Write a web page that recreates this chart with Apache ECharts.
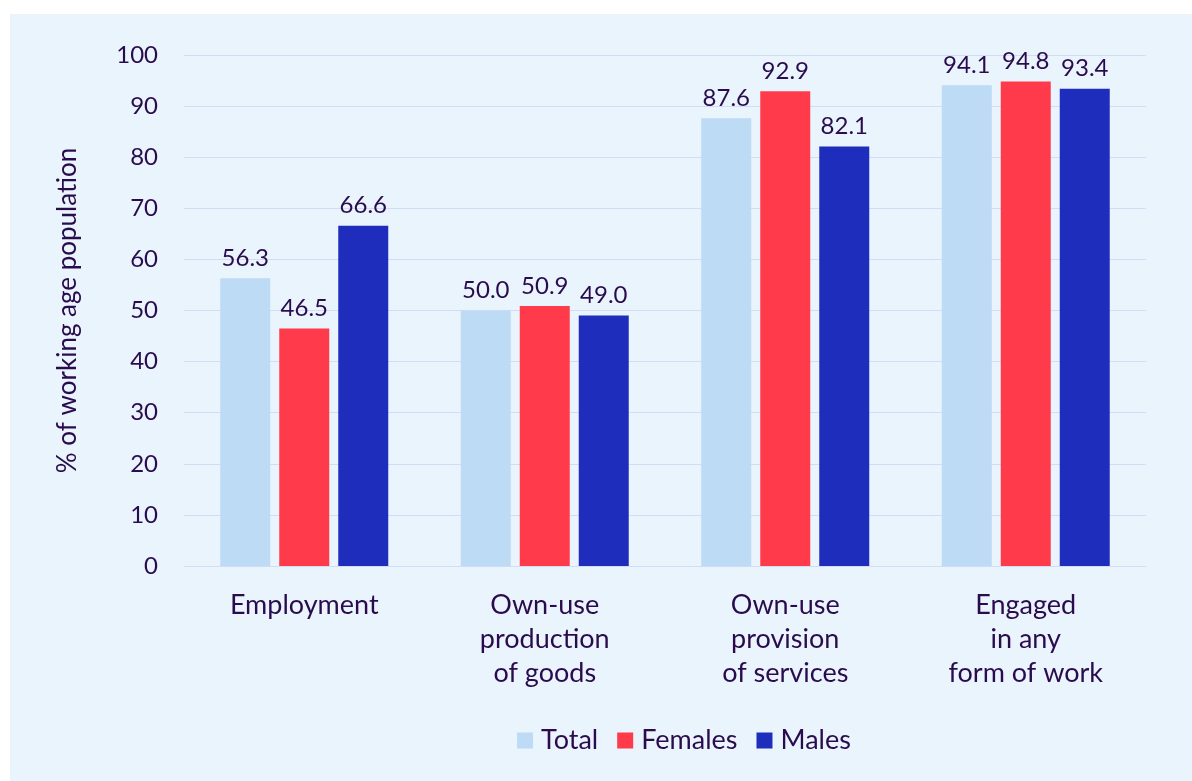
<!DOCTYPE html>
<html>
<head>
<meta charset="utf-8">
<script src="https://cdn.jsdelivr.net/npm/echarts@6/dist/echarts.min.js"></script>
<style>
  html, body { margin: 0; padding: 0; background: #ffffff; }
  #panel { position: absolute; left: 10px; top: 14px; width: 1182px; height: 767px; background: #eaf4fd; }
  #chart { position: absolute; left: 0; top: 0; width: 1192px; height: 781px; }
</style>
</head>
<body>
<div id="panel"></div>
<div id="chart"></div>
<script>
const categories = [
  "Employment",
  "Own-use\nproduction\nof goods",
  "Own-use\nprovision\nof services",
  "Engaged\nin any\nform of work",
];
const totalValues = [56.3, 50.0, 87.6, 94.1];
const femaleValues = [46.5, 50.9, 92.9, 94.8];
const maleValues = [66.6, 49.0, 82.1, 93.4];

const textColor = "#2a0c4e";
const fontFamily = "Lato, 'Open Sans', sans-serif";

const chart = echarts.init(document.getElementById("chart"));

const makeSeries = (name, values, color) => ({
  name: name,
  type: "bar",
  data: values,
  barWidth: 50,
  barGap: "18%",
  itemStyle: { color: color },
  label: {
    show: true,
    position: "top",
    distance: 8,
    color: textColor,
    fontSize: 24,
    fontFamily: fontFamily,
    formatter: (p) => p.value.toFixed(1),
  },
});

const options = {
  backgroundColor: "transparent",
  textStyle: { fontFamily: fontFamily },
  grid: { left: 184, right: 46, top: 55, bottom: 215 },
  legend: {
    bottom: 22,
    left: 512,
    itemWidth: 16,
    itemHeight: 16,
    itemGap: 19,
    icon: "rect",
    textStyle: { color: textColor, fontSize: 27, fontFamily: fontFamily, padding: [0, 0, 0, 3] },
    data: ["Total", "Females", "Males"],
  },
  xAxis: {
    type: "category",
    data: categories,
    axisLine: { show: false },
    axisTick: { show: false },
    axisLabel: {
      color: textColor,
      fontSize: 27,
      fontFamily: fontFamily,
      lineHeight: 34,
      margin: 22,
      interval: 0,
    },
  },
  yAxis: {
    type: "value",
    min: 0,
    max: 100,
    interval: 10,
    name: "% of working age population",
    nameLocation: "middle",
    nameGap: 103,
    nameTextStyle: { color: textColor, fontSize: 26, fontFamily: fontFamily },
    axisLine: { show: false },
    axisTick: { show: false },
    axisLabel: { color: textColor, fontSize: 24, fontFamily: fontFamily, margin: 26 },
    splitLine: { lineStyle: { color: "#d2dcf4", width: 1 } },
  },
  series: [
    makeSeries("Total", totalValues, "#bedbf6"),
    makeSeries("Females", femaleValues, "#ff3b4b"),
    makeSeries("Males", maleValues, "#1e2dbb"),
  ],
};

chart.setOption(options);
</script>
</body>
</html>
